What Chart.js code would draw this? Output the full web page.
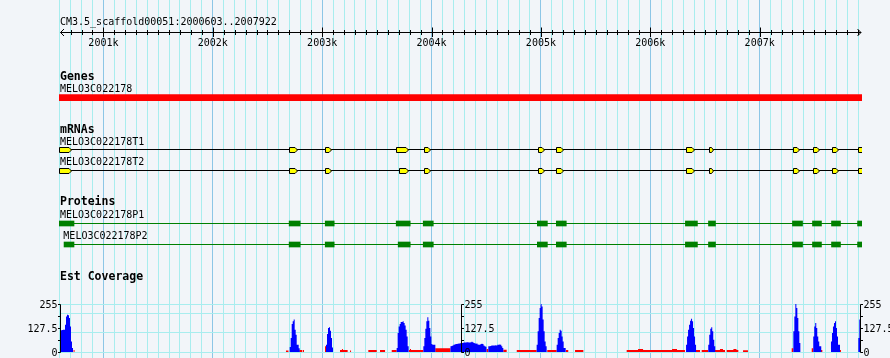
<!DOCTYPE html>
<html>
<head>
<meta charset="utf-8">
<script src="https://cdn.jsdelivr.net/npm/chart.js@4.4.1/dist/chart.umd.min.js"></script>
<style>
  html, body { margin: 0; padding: 0; background: #F2F5F9; }
  #wrap { position: relative; width: 890px; height: 358px; }
  #wrap canvas { position: absolute; left: 0; top: 0; }
</style>
</head>
<body>
<div id="wrap">
  <canvas id="tracks" width="890" height="358"></canvas>
  <canvas id="coverage" width="890" height="358"></canvas>
</div>
<script>
// view
const refName = 'CM3.5_scaffold00051';
const viewStart = 2000603;
const viewEnd = 2007922;

// ruler
const rulerMajor = [2001000, 2002000, 2003000, 2004000, 2005000, 2006000, 2007000];
const rulerLabels = ['2001k', '2002k', '2003k', '2004k', '2005k', '2006k', '2007k'];
const gridStep = 100;

const trackTitles = ['Genes', 'mRNAs', 'Proteins', 'Est Coverage'];

// gene
const geneName = 'MELO3C022178';
const geneSpan = [2000594, 2007960];

// mRNAs
const mrnaNames = ['MELO3C022178T1', 'MELO3C022178T2'];
const t1Starts = [2000594, 2002698, 2003028, 2003677, 2003927, 2004970, 2005141, 2006324, 2006534, 2007303, 2007486, 2007657, 2007895];
const t1Ends   = [2000710, 2002778, 2003089, 2003790, 2003995, 2005040, 2005214, 2006413, 2006584, 2007367, 2007550, 2007724, 2007960];
const t2Starts = [2000594, 2002698, 2003028, 2003698, 2003927, 2004970, 2005141, 2006324, 2006534, 2007303, 2007486, 2007657, 2007895];
const t2Ends   = [2000710, 2002778, 2003089, 2003790, 2003995, 2005040, 2005214, 2006413, 2006584, 2007367, 2007550, 2007724, 2007960];

// proteins
const proteinNames = ['MELO3C022178P1', 'MELO3C022178P2'];
const p1Starts = [2000594, 2002698, 2003028, 2003677, 2003924, 2004967, 2005141, 2006321, 2006532, 2007300, 2007483, 2007657, 2007895];
const p1Ends   = [2000731, 2002799, 2003110, 2003805, 2004016, 2005059, 2005232, 2006431, 2006596, 2007392, 2007565, 2007739, 2007960];
const p2Starts = [2000640, 2002698, 2003028, 2003695, 2003924, 2004967, 2005141, 2006321, 2006532, 2007300, 2007483, 2007657, 2007895];
const p2Ends   = [2000731, 2002799, 2003110, 2003805, 2004016, 2005059, 2005232, 2006431, 2006596, 2007392, 2007565, 2007739, 2007960];

// est coverage
const covTicks = [0, 127.5, 255];
const covTickLabels = ['0', '127.5', '255'];
const covMinorTicks = [63.75, 191.25];
const covAxisAt = [2000603, 2004266, 2007914];
const covGridLines = [0, 101, 202, 255];
const covBin = 9.15;
const blueStarts = [2000603, 2002703, 2003035, 2003681, 2003925, 2004173, 2004519, 2004961, 2005144, 2006327, 2006530, 2007308, 2007490, 2007652, 2007902];
const blueValues = [
  [115, 115, 117, 118, 118, 145, 189, 198, 195, 181, 136, 56, 21],
  [27, 74, 149, 163, 172, 118, 92, 39, 39, 20],
  [39, 96, 127, 131, 113, 74, 24],
  [21, 101, 136, 149, 159, 159, 163, 154, 141, 118, 83, 30],
  [30, 74, 124, 163, 184, 166, 127, 83, 42, 39, 39, 39],
  [30, 32, 35, 38, 40, 42, 42, 44, 45, 45, 48, 48, 48, 50, 50, 51, 52, 52, 50, 51, 52, 54, 52, 48, 46, 44, 45, 40, 38, 39, 42, 44, 42, 35, 30, 28],
  [30, 30, 32, 34, 34, 35, 34, 36, 34, 38, 39, 40, 39, 30, 21],
  [39, 110, 181, 234, 255, 242, 172, 110, 56, 30],
  [39, 74, 101, 118, 113, 83, 56, 21, 21],
  [39, 83, 118, 145, 166, 177, 163, 127, 83, 39],
  [39, 92, 124, 131, 110, 65, 30],
  [110, 189, 255, 234, 181, 110, 48],
  [83, 136, 154, 127, 83, 56, 30, 30],
  [56, 101, 136, 154, 163, 127, 83, 39, 39],
  [74, 172]
];
const redStarts = [2000725, 2002669, 2002791, 2002822, 2003026, 2003163, 2003181, 2003190, 2003255, 2003422, 2003529, 2003636, 2003794, 2003803, 2003812, 2004034, 2004503, 2004656, 2004779, 2005058, 2005229, 2005312, 2005784, 2005888, 2005934, 2006199, 2006244, 2006418, 2006470, 2006592, 2006637, 2006665, 2006699, 2006760, 2006788, 2006848, 2007293, 2007476, 2007561, 2007735];
const redEnds   = [2000736, 2002692, 2002816, 2002834, 2003035, 2003181, 2003190, 2003233, 2003264, 2003499, 2003575, 2003681, 2003803, 2003812, 2003925, 2004173, 2004519, 2004687, 2004961, 2005144, 2005250, 2005388, 2005888, 2005934, 2006199, 2006244, 2006317, 2006455, 2006530, 2006637, 2006665, 2006683, 2006760, 2006788, 2006805, 2006893, 2007308, 2007490, 2007573, 2007744];
const redValues = [11, 8, 10, 10, 30, 10, 16, 10, 8, 10, 10, 10, 11, 16, 11, 20, 16, 12, 11, 11, 11, 11, 11, 16, 11, 16, 11, 11, 11, 11, 16, 11, 11, 16, 11, 9, 20, 20, 11, 11];

// layout (pixels)
const W = 890, H = 358;
const padLeft = 60, padRight = 29.5;
const rows = { gene: 97.7, t1: 149.5, t2: 170.5, p1: 223.5, p2: 244.5 };
const titleBase = [80, 132.7, 205.3, 280];
const labelBase = { gene: 92, t1: 144.7, t2: 165, p1: 218, p2: 238.7 };
const bg = '#F2F5F9';
const gridMinor = '#A8EDEE';
const gridMajor = '#8CC6E6';
const mono = '"DejaVu Sans Mono", monospace';
const clipBox = { left: 1, top: false, right: 1.5, bottom: false };

function exonBars(starts, ends, row) {
  return starts.map((s, i) => ({ x: [s, ends[i]], y: row }));
}
function spanLine(starts, ends, row) {
  return [{ x: starts[0], y: row }, { x: ends[ends.length - 1], y: row }];
}

const barBase = {
  type: 'bar', indexAxis: 'y', grouped: false, borderWidth: 0,
  clip: clipBox
};
const lineBase = {
  type: 'line', borderWidth: 1, pointRadius: 0, fill: false, clip: clipBox
};

const background = {
  id: 'background',
  beforeDraw(chart) {
    const ctx = chart.ctx;
    ctx.save();
    ctx.fillStyle = bg;
    ctx.fillRect(0, 0, chart.width, chart.height);
    ctx.restore();
  }
};

const mrnaGlyph = {
  id: 'mrnaGlyph',
  afterDatasetsDraw(chart) {
    const ctx = chart.ctx, area = chart.chartArea;
    ctx.save();
    ctx.beginPath();
    ctx.rect(area.left - 1, 0, area.right - area.left + 2.5, chart.height);
    ctx.clip();
    chart.data.datasets.forEach((ds, i) => {
      if (!ds.mrnaExons) return;
      chart.getDatasetMeta(i).data.forEach(el => {
        const p = el.getProps(['x', 'y', 'base', 'height'], true);
        const l = Math.round(Math.min(p.x, p.base)) + 0.5;
        const r = Math.round(Math.max(p.x, p.base)) - 0.5;
        const t = Math.round(p.y - p.height / 2) + 0.5;
        const b = t + p.height - 1;
        const tip = Math.min(2.5, (r - l) / 2);
        ctx.beginPath();
        ctx.moveTo(l, t);
        ctx.lineTo(r - tip, t);
        ctx.lineTo(r, (t + b) / 2);
        ctx.lineTo(r - tip, b);
        ctx.lineTo(l, b);
        ctx.closePath();
        ctx.fillStyle = '#FFFF00';
        ctx.fill();
        ctx.strokeStyle = '#000000';
        ctx.lineWidth = 1;
        ctx.stroke();
      });
    });
    ctx.restore();
  }
};

const rulerAndText = {
  id: 'rulerAndText',
  afterDraw(chart) {
    const ctx = chart.ctx, xs = chart.scales.x, area = chart.chartArea;
    const px = v => Math.round(xs.getPixelForValue(v)) + 0.5;
    ctx.save();
    ctx.strokeStyle = '#000';
    ctx.fillStyle = '#000';
    ctx.lineWidth = 1;
    // ruler line + arrows
    const ry = 32.5, rl = area.left + 0.5, rr = area.right + 0.5;
    ctx.beginPath();
    ctx.moveTo(rl, ry); ctx.lineTo(rr, ry);
    ctx.moveTo(rl + 3.5, ry - 3.5); ctx.lineTo(rl, ry); ctx.lineTo(rl + 3.5, ry + 3.5);
    ctx.moveTo(rr - 3.5, ry - 3.5); ctx.lineTo(rr, ry); ctx.lineTo(rr - 3.5, ry + 3.5);
    for (let v = Math.ceil(viewStart / gridStep) * gridStep; v < viewEnd; v += gridStep) {
      if (rulerMajor.includes(v)) continue;
      ctx.moveTo(px(v), ry - 2.5); ctx.lineTo(px(v), ry + 2.5);
    }
    rulerMajor.forEach(v => { ctx.moveTo(px(v), ry - 5); ctx.lineTo(px(v), ry + 4.5); });
    ctx.stroke();
    ctx.font = '10px ' + mono;
    ctx.textBaseline = 'alphabetic';
    ctx.textAlign = 'center';
    rulerLabels.forEach((t, i) => ctx.fillText(t, xs.getPixelForValue(rulerMajor[i]), 46));
    ctx.textAlign = 'left';
    ctx.fillText(refName + ':' + viewStart + '..' + viewEnd, area.left, 25);
    // track titles
    ctx.font = 'bold 11.5px ' + mono;
    trackTitles.forEach((t, i) => ctx.fillText(t, area.left, titleBase[i]));
    // feature labels
    ctx.font = '10px ' + mono;
    const lx = v => Math.max(area.left, xs.getPixelForValue(v));
    ctx.fillText(geneName, lx(geneSpan[0]), labelBase.gene);
    ctx.fillText(mrnaNames[0], lx(t1Starts[0]), labelBase.t1);
    ctx.fillText(mrnaNames[1], lx(t2Starts[0]), labelBase.t2);
    ctx.fillText(proteinNames[0], lx(p1Starts[0]), labelBase.p1);
    ctx.fillText(proteinNames[1], lx(p2Starts[0]) - 0.7, labelBase.p2);
    ctx.restore();
  }
};

new Chart(document.getElementById('tracks'), {
  type: 'line',
  data: {
    datasets: [
      { ...barBase, label: 'gene', data: [{ x: geneSpan, y: rows.gene }], backgroundColor: '#FF0000', barThickness: 6 },
      { ...barBase, label: 'T1 exons', mrnaExons: true, data: exonBars(t1Starts, t1Ends, rows.t1), backgroundColor: 'transparent', barThickness: 6 },
      { ...barBase, label: 'T2 exons', mrnaExons: true, data: exonBars(t2Starts, t2Ends, rows.t2), backgroundColor: 'transparent', barThickness: 6 },
      { ...barBase, label: 'P1', data: exonBars(p1Starts, p1Ends, rows.p1), backgroundColor: '#008000', barThickness: 5 },
      { ...barBase, label: 'P2', data: exonBars(p2Starts, p2Ends, rows.p2), backgroundColor: '#008000', barThickness: 5 },
      { ...lineBase, label: 'T1', data: spanLine(t1Starts, t1Ends, rows.t1), borderColor: '#000000' },
      { ...lineBase, label: 'T2', data: spanLine(t2Starts, t2Ends, rows.t2), borderColor: '#000000' },
      { ...lineBase, label: 'P1 line', data: spanLine(p1Starts, p1Ends, rows.p1), borderColor: '#008000' },
      { ...lineBase, label: 'P2 line', data: spanLine(p2Starts, p2Ends, rows.p2), borderColor: '#008000' }
    ]
  },
  options: {
    responsive: false,
    animation: false,
    devicePixelRatio: 1,
    layout: { padding: { left: padLeft, right: padRight, top: 0, bottom: 0 } },
    plugins: { legend: { display: false }, tooltip: { enabled: false } },
    scales: {
      x: {
        type: 'linear', min: viewStart, max: viewEnd, offset: false,
        ticks: { display: false },
        border: { display: false },
        grid: {
          offset: false, drawTicks: false,
          color: c => (c.tick && c.tick.value % 1000 === 0) ? gridMajor : gridMinor
        },
        afterBuildTicks: s => {
          const t = [];
          for (let v = Math.floor(viewStart / gridStep) * gridStep; v <= viewEnd; v += gridStep) t.push({ value: v });
          s.ticks = t;
        }
      },
      y: { type: 'linear', min: 0, max: H, reverse: true, display: false, offset: false }
    }
  },
  plugins: [background, mrnaGlyph, rulerAndText]
});

// coverage points
const bluePoints = [];
blueStarts.forEach((s, i) => {
  blueValues[i].forEach((v, j) => bluePoints.push({ x: s + j * covBin, y: v }));
  bluePoints.push({ x: s + blueValues[i].length * covBin, y: 0 });
});
const redPoints = [];
redStarts.forEach((s, i) => {
  redPoints.push({ x: s, y: redValues[i] });
  redPoints.push({ x: redEnds[i], y: 0 });
});

const covAxes = {
  id: 'covAxes',
  afterDraw(chart) {
    const ctx = chart.ctx, xs = chart.scales.x, ys = chart.scales.y;
    const py = v => Math.round(ys.getPixelForValue(v)) + 0.5;
    ctx.save();
    ctx.strokeStyle = '#000';
    ctx.fillStyle = '#000';
    ctx.lineWidth = 1;
    ctx.font = '10px ' + mono;
    ctx.textBaseline = 'middle';
    covAxisAt.forEach((pos, k) => {
      const ax = Math.round(xs.getPixelForValue(pos)) + 0.5;
      const dir = k === 0 ? -1 : 1;
      ctx.beginPath();
      ctx.moveTo(ax, py(255)); ctx.lineTo(ax, py(0));
      covTicks.concat(covMinorTicks).forEach(v => { ctx.moveTo(ax, py(v)); ctx.lineTo(ax + dir * 2.5, py(v)); });
      ctx.stroke();
      ctx.textAlign = k === 0 ? 'right' : 'left';
      covTicks.forEach((v, i) => ctx.fillText(covTickLabels[i], ax + dir * 3, py(v) + 0.5));
    });
    ctx.restore();
  }
};

new Chart(document.getElementById('coverage'), {
  type: 'line',
  data: {
    datasets: [
      { label: 'Est coverage', data: bluePoints, stepped: 'before', fill: 'origin', backgroundColor: '#0000FF', borderColor: 'transparent', borderWidth: 0, pointRadius: 0 },
      { label: 'low coverage', data: redPoints, stepped: 'before', fill: 'origin', backgroundColor: '#FF0000', borderColor: 'transparent', borderWidth: 0, pointRadius: 0 }
    ]
  },
  options: {
    responsive: false,
    animation: false,
    devicePixelRatio: 1,
    layout: { padding: { left: padLeft, right: padRight, top: 304, bottom: 6 } },
    plugins: { legend: { display: false }, tooltip: { enabled: false } },
    scales: {
      x: { type: 'linear', min: viewStart, max: viewEnd, display: false },
      y: {
        type: 'linear', min: 0, max: 255,
        ticks: { display: false },
        border: { display: false },
        grid: { drawTicks: false, color: gridMinor },
        afterBuildTicks: s => { s.ticks = covGridLines.map(v => ({ value: v })); }
      }
    }
  },
  plugins: [covAxes]
});
</script>
</body>
</html>
